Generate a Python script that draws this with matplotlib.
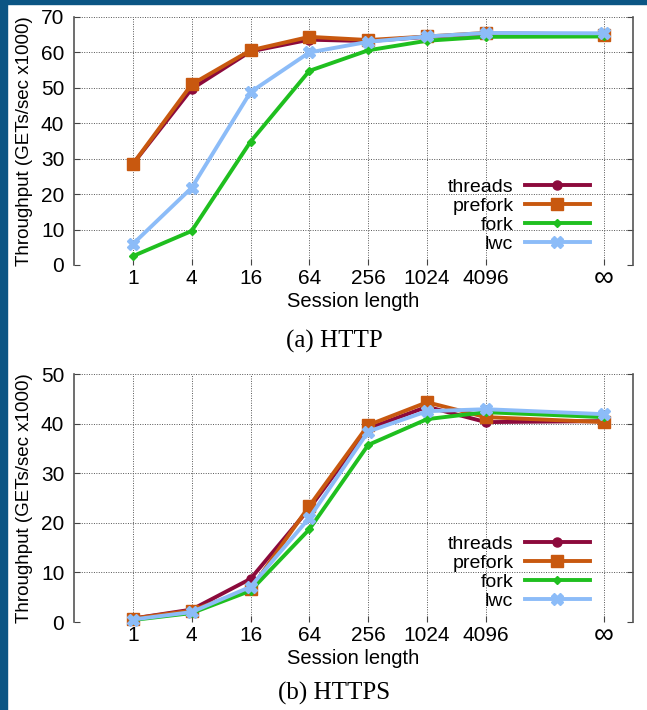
import matplotlib
matplotlib.use("Agg")
import matplotlib.pyplot as plt
from matplotlib.patches import Rectangle

plt.rcParams['font.family'] = ['Liberation Sans', 'DejaVu Sans']

session_labels = ["1", "4", "16", "64", "256", "1024", "4096", "∞"]
x_pos = [0, 1, 2, 3, 4, 5, 6, 8]

series_names = ["threads", "prefork", "fork", "lwc"]
colors = {"threads": "#8c0a3c", "prefork": "#c8580f", "fork": "#1fbf1f", "lwc": "#8cbcf8"}
markers = {"threads": "o", "prefork": "s", "fork": "D", "lwc": "X"}
msizes = {"threads": 6.5, "prefork": 9, "fork": 4.5, "lwc": 8.5}

http_threads = [28.5, 49.7, 60.3, 63.6, 63.2, 64.4, 65.3, 65.0]
http_prefork = [28.5, 51.0, 60.6, 64.4, 63.5, 64.5, 65.5, 65.0]
http_fork = [2.5, 9.6, 34.8, 54.8, 60.6, 63.3, 64.4, 64.5]
http_lwc = [5.9, 21.8, 48.8, 60.0, 63.0, 64.5, 65.5, 65.4]

https_threads = [0.7, 2.5, 8.7, 22.9, 39.0, 43.4, 40.3, 40.5]
https_prefork = [0.7, 2.3, 6.6, 23.4, 39.7, 44.3, 41.3, 40.3]
https_fork = [0.4, 1.8, 6.3, 18.7, 35.7, 40.9, 42.3, 41.3]
https_lwc = [0.5, 2.0, 7.1, 21.0, 38.4, 42.5, 42.9, 41.9]

W, H = 647, 710
fig = plt.figure(figsize=(W / 100, H / 100), dpi=100)
fig.patches.append(Rectangle((0, 0), 7 / W, 1, transform=fig.transFigure,
                             color="#0b5584", zorder=10))
fig.patches.append(Rectangle((0, 1 - 4 / H), 1, 4 / H, transform=fig.transFigure,
                             color="#0b5584", zorder=10))


def make_axes(top_px, bottom_px):
    left, right = 74, 633
    return fig.add_axes([left / W, 1 - bottom_px / H, (right - left) / W,
                         (bottom_px - top_px) / H])


def draw(ax, data, ymax, yticks):
    for name in series_names:
        ax.plot(x_pos, data[name], color=colors[name], lw=2.8,
                marker=markers[name], ms=msizes[name], mec=colors[name],
                mfc=colors[name], label=name, clip_on=False, zorder=3)
    ax.set_xlim(-1, 8.5)
    ax.set_ylim(0, ymax)
    ax.set_xticks(x_pos)
    ax.set_xticklabels(session_labels)
    ax.set_yticks(yticks)
    ax.grid(True, linestyle=(0, (1, 1.5)), color="#555555", lw=0.7)
    ax.spines['top'].set_visible(False)
    ax.spines['bottom'].set_visible(False)
    for s in ('left', 'right'):
        ax.spines[s].set_color("#555555")
        ax.spines[s].set_linewidth(1.2)
    ax.tick_params(direction='in', length=4, width=0.8, color="#444444",
                   labelsize=15, right=True, top=False)
    ax.tick_params(axis='y', pad=7)
    ax.tick_params(axis='x', pad=3)
    inf_label = ax.get_xticklabels()[-1]
    inf_label.set_fontsize(20)
    inf_label.set_y(inf_label.get_position()[1] + 0.012)
    ax.set_xlabel("Session length", fontsize=14.5, labelpad=0)
    ax.set_ylabel("Throughput (GETs/sec x1000)", fontsize=13.5)
    ax.yaxis.set_label_coords(-0.074, 0.5)
    leg = ax.legend(loc="lower right", bbox_to_anchor=(0.923, 0.048), frameon=False,
                    markerfirst=False, fontsize=14, handlelength=3.34,
                    labelspacing=0.08, handletextpad=0.6, borderaxespad=0,
                    borderpad=0)
    for t in leg.get_texts():
        t.set_ha('right')
    return leg


ax1 = make_axes(17, 265)
draw(ax1, {"threads": http_threads, "prefork": http_prefork,
           "fork": http_fork, "lwc": http_lwc}, 70, range(0, 71, 10))
ax2 = make_axes(374, 622)
draw(ax2, {"threads": https_threads, "prefork": https_prefork,
           "fork": https_fork, "lwc": https_lwc}, 50, range(0, 51, 10))

fig.text(334 / W, 1 - 341 / H, "(a) HTTP", family=["Liberation Serif", "DejaVu Serif"],
         fontsize=18, ha="center", va="center")
fig.text(334 / W, 1 - 693 / H, "(b) HTTPS", family=["Liberation Serif", "DejaVu Serif"],
         fontsize=18, ha="center", va="center")

fig.savefig("out.png", dpi=100)
